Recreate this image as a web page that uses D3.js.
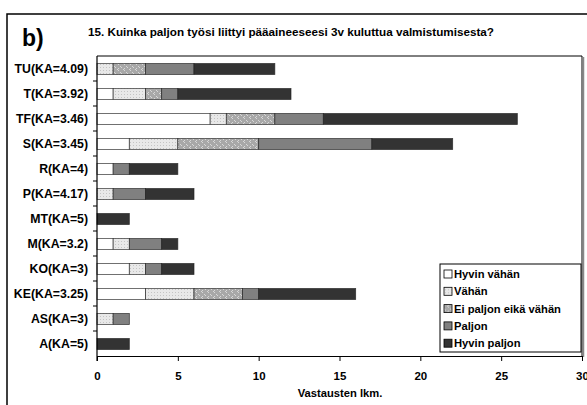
<!DOCTYPE html>
<html lang="fi">
<head>
  <meta charset="UTF-8" />
  <title>Kuinka paljon työsi liittyi pääaineeseesi</title>
  <style>
    body { margin: 0; font-family: "Liberation Sans", Arial, sans-serif; background: #fff; }
    text { font-weight: bold; fill: #000; }
    .axis path, .axis line { stroke: #000; }
  </style>
</head>
<body>
  <div id="chart"></div>
  <script src="https://d3js.org/d3.v7.min.js"></script>
  <script>
    // Data (counts per answer)
    var categories = ["TU(KA=4.09)", "T(KA=3.92)", "TF(KA=3.46)", "S(KA=3.45)", "R(KA=4)", "P(KA=4.17)",
                      "MT(KA=5)", "M(KA=3.2)", "KO(KA=3)", "KE(KA=3.25)", "AS(KA=3)", "A(KA=5)"];
    var seriesNames = ["Hyvin vähän", "Vähän", "Ei paljon eikä vähän", "Paljon", "Hyvin paljon"];
    var hyvinVahan  = [0, 1, 7, 2, 1, 0, 0, 1, 2, 3, 0, 0];
    var vahan       = [1, 2, 1, 3, 0, 1, 0, 1, 1, 3, 1, 0];
    var eiPaljon    = [2, 1, 3, 5, 0, 0, 0, 0, 0, 3, 0, 0];
    var paljon      = [3, 1, 3, 7, 1, 2, 0, 2, 1, 1, 1, 0];
    var hyvinPaljon = [5, 7, 12, 5, 3, 3, 2, 1, 2, 6, 0, 2];
    var xTicks = [0, 5, 10, 15, 20, 25, 30];

    var keys = ["hv", "v", "e", "p", "hp"];
    var rows = categories.map(function(c, i) {
      return {cat: c, hv: hyvinVahan[i], v: vahan[i], e: eiPaljon[i], p: paljon[i], hp: hyvinPaljon[i]};
    });

    var W = 587, H = 405;
    var pLeft = 97, pRight = 582, pTop = 56, pBottom = 356;

    var svg = d3.select("#chart").append("svg")
      .attr("width", W).attr("height", H);

    // patterns
    var defs = svg.append("defs");
    var p1 = defs.append("pattern").attr("id", "patV").attr("patternUnits", "userSpaceOnUse")
      .attr("width", 3).attr("height", 3);
    p1.append("rect").attr("width", 3).attr("height", 3).attr("fill", "#e8e8e8");
    p1.append("rect").attr("x", 1).attr("y", 1).attr("width", 1).attr("height", 1).attr("fill", "#c4c4c4");

    var p2 = defs.append("pattern").attr("id", "patE").attr("patternUnits", "userSpaceOnUse")
      .attr("width", 6).attr("height", 6);
    p2.append("rect").attr("width", 6).attr("height", 6).attr("fill", "#a8a8a8");
    p2.append("path").attr("d", "M0,0h2v1h-2zM3,3h2v1h-2zM1,-1v3h1v-3zM4,2v3h1v-3z")
      .attr("fill", "#d8d8d8");

    var fills = {hv: "#ffffff", v: "url(#patV)", e: "url(#patE)", p: "#808080", hp: "#333333"};

    // outer frame
    svg.append("rect").attr("x", 7).attr("y", 14).attr("width", 600).attr("height", 420)
      .attr("fill", "none").attr("stroke", "#000").attr("stroke-width", 1.5);

    svg.append("text").attr("x", 22).attr("y", 46).style("font-size", "23px").text("b)");
    svg.append("text").attr("x", 88).attr("y", 36).style("font-size", "11.7px")
      .text("15. Kuinka paljon työsi liittyi pääaineeseesi 3v kuluttua valmistumisesta?");

    var x = d3.scaleLinear().domain([0, 30]).range([pLeft, pRight]);
    var yb = d3.scaleBand().domain(categories).range([pTop, pBottom]);

    // plot frame
    svg.append("path").attr("d", "M" + pLeft + "," + pTop + "H" + pRight + "V" + pBottom)
      .attr("fill", "none").attr("stroke", "#000").attr("stroke-width", 1);
    svg.append("line").attr("x1", pRight + 1.5).attr("x2", pRight + 1.5).attr("y1", pTop + 1).attr("y2", pBottom + 1)
      .attr("stroke", "#888").attr("stroke-width", 1.5);

    var stack = d3.stack().keys(keys)(rows);

    svg.append("g").selectAll("g").data(stack).enter().append("g")
      .attr("fill", function(d) { return fills[d.key]; })
      .selectAll("rect").data(function(d) { return d.filter(function(s) { return s[1] > s[0]; }); })
      .enter().append("rect")
      .attr("x", function(d) { return x(d[0]); })
      .attr("y", function(d) { return yb(d.data.cat) + yb.bandwidth() / 2 - 5; })
      .attr("width", function(d) { return x(d[1]) - x(d[0]); })
      .attr("height", 11)
      .attr("stroke", "#222").attr("stroke-width", 0.8)
      .attr("stroke-opacity", 0.8);

    // x axis
    var xAxis = svg.append("g").attr("class", "axis")
      .attr("transform", "translate(0," + pBottom + ")")
      .call(d3.axisBottom(x).tickValues(xTicks).tickSize(5).tickPadding(11).tickSizeOuter(0));
    xAxis.selectAll("text").style("font-size", "11.5px").style("font-family", "Liberation Sans, Arial, sans-serif");
    xAxis.select(".domain").attr("stroke-width", 1.2);

    // y axis: ticks at band boundaries
    var yAxis = svg.append("g").attr("class", "axis")
      .attr("transform", "translate(" + pLeft + ",0)");
    yAxis.append("line").attr("x1", 0).attr("x2", 0).attr("y1", pTop).attr("y2", pBottom + 5)
      .attr("stroke", "#000").attr("stroke-width", 1.2);
    yAxis.selectAll(".tk").data(categories.slice(1)).enter().append("line")
      .attr("x1", -4).attr("x2", 0)
      .attr("y1", function(d) { return yb(d); }).attr("y2", function(d) { return yb(d); })
      .attr("stroke", "#000");
    yAxis.selectAll(".lbl").data(categories).enter().append("text")
      .attr("x", -9)
      .attr("y", function(d) { return yb(d) + yb.bandwidth() / 2; })
      .attr("dy", "0.35em")
      .attr("text-anchor", "end")
      .style("font-size", "12.3px")
      .text(function(d) { return d; });

    svg.append("text").attr("x", 340).attr("y", 397).attr("text-anchor", "middle")
      .style("font-size", "11.2px").text("Vastausten lkm.");

    // legend
    var lg = svg.append("g").attr("transform", "translate(440,264)");
    lg.append("rect").attr("width", 141).attr("height", 88)
      .attr("fill", "#fff").attr("stroke", "#000");
    var li = lg.selectAll(".li").data(keys).enter().append("g")
      .attr("transform", function(d, i) { return "translate(4," + (10 + i * 17.3) + ")"; });
    li.append("rect").attr("x", 0).attr("y", -4).attr("width", 8).attr("height", 8)
      .attr("fill", function(d) { return fills[d]; }).attr("stroke", "#000").attr("stroke-width", 0.8);
    li.append("text").attr("x", 10).attr("dy", "0.36em").style("font-size", "11.2px")
      .text(function(d, i) { return seriesNames[i]; });
  </script>
</body>
</html>
